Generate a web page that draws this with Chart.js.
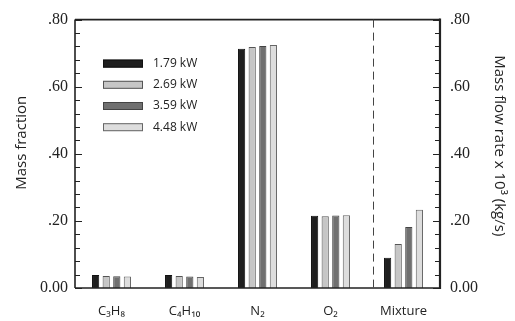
<!DOCTYPE html>
<html><head><meta charset="utf-8">
<script src="https://cdn.jsdelivr.net/npm/chart.js@4/dist/chart.umd.min.js"></script>
<style>html,body{margin:0;padding:0;background:#fff}#wrap{width:515px;height:321px}</style>
</head><body><div id="wrap"><canvas id="c" width="515" height="321"></canvas></div>
<script>
const categories = ['C\u2083H\u2088', 'C\u2084H\u2081\u2080', 'N\u2082', 'O\u2082', 'Mixture'];
const seriesLabels = ['1.79 kW', '2.69 kW', '3.59 kW', '4.48 kW'];
const s179 = [0.039, 0.039, 0.713, 0.215, 0.090];
const s269 = [0.036, 0.036, 0.718, 0.214, 0.131];
const s359 = [0.035, 0.034, 0.721, 0.216, 0.182];
const s448 = [0.034, 0.033, 0.724, 0.217, 0.233];
const yMin = 0, yMax = 0.8, majorStep = 0.2, minorStep = 0.04;
const dividerAt = 3.58;
const leftTitle = 'Mass fraction';
const rightTitle = 'Mass flow rate x 10\u00b3 (kg/s)';

const fills = ['#1f1f1f', '#c6c6c6', '#707070', '#dddddd'];
const borders = ['#111111', '#555555', '#444444', '#666666'];
const seriesData = [s179, s269, s359, s448];

const fmt = v => Math.abs(v) < 1e-9 ? '0.00' : v.toFixed(2).replace(/^0/, '');

const framePlugin = {
  id: 'frame',
  afterDraw(chart) {
    const ctx = chart.ctx, a = chart.chartArea, y = chart.scales.y, x = chart.scales.x;
    ctx.save();
    ctx.strokeStyle = '#222';
    const nMinor = Math.round((yMax - yMin) / minorStep);
    for (let i = 0; i <= nMinor; i++) {
      const v = yMin + i * minorStep;
      const py = Math.round(y.getPixelForValue(v)) + 0.5;
      const major = Math.abs(v / majorStep - Math.round(v / majorStep)) < 1e-6;
      const len = major ? 7 : 5;
      ctx.lineWidth = 1;
      ctx.beginPath();
      ctx.moveTo(a.left, py); ctx.lineTo(a.left + len, py);
      ctx.moveTo(a.right, py); ctx.lineTo(a.right - len, py);
      ctx.stroke();
    }
    ctx.lineWidth = 1.6;
    ctx.beginPath();
    ctx.moveTo(a.left, a.top); ctx.lineTo(a.right, a.top);
    ctx.moveTo(a.left, a.bottom); ctx.lineTo(a.right, a.bottom);
    ctx.moveTo(a.left, a.top); ctx.lineTo(a.left, a.bottom);
    ctx.stroke();
    ctx.lineWidth = 2.2;
    ctx.beginPath();
    ctx.moveTo(a.right, a.top - 1); ctx.lineTo(a.right, a.bottom + 1);
    ctx.stroke();
    const dx = Math.round(x.getPixelForValue(dividerAt)) + 0.5;
    ctx.lineWidth = 1;
    ctx.strokeStyle = '#444';
    ctx.setLineDash([8, 5]);
    ctx.beginPath();
    ctx.moveTo(dx, a.top); ctx.lineTo(dx, a.bottom);
    ctx.stroke();
    ctx.setLineDash([]);
    // legend
    ctx.font = '12px "Open Sans"';
    ctx.textBaseline = 'middle';
    ctx.textAlign = 'left';
    chart.data.datasets.forEach((ds, i) => {
      const cy = a.top + 44 + i * 21.2;
      const bx = a.left + 28;
      ctx.fillStyle = ds.backgroundColor;
      ctx.fillRect(bx, cy - 4, 40, 8);
      ctx.strokeStyle = ds.borderColor;
      ctx.lineWidth = 1;
      ctx.strokeRect(bx + 0.5, cy - 3.5, 39, 7);
      ctx.fillStyle = '#222';
      ctx.fillText(ds.label, bx + 50, cy);
    });
    // axis titles
    ctx.font = '15px "Open Sans"';
    ctx.fillStyle = '#222';
    ctx.textAlign = 'center';
    ctx.textBaseline = 'middle';
    const midY = (a.top + a.bottom) / 2;
    ctx.save();
    ctx.translate(22, midY - 11);
    ctx.rotate(-Math.PI / 2);
    ctx.fillText(leftTitle, 0, 0);
    ctx.restore();
    ctx.save();
    ctx.translate(chart.width - 16, midY - 8);
    ctx.rotate(Math.PI / 2);
    ctx.fillText(rightTitle, 0, 0);
    ctx.restore();
    ctx.restore();
  }
};

new Chart(document.getElementById('c'), {
  type: 'bar',
  data: {
    labels: categories,
    datasets: seriesData.map((d, i) => ({
      label: seriesLabels[i], data: d,
      backgroundColor: fills[i], borderColor: borders[i], borderWidth: 1,
      categoryPercentage: 0.58, barPercentage: 0.68, yAxisID: 'y'
    }))
  },
  options: {
    responsive: false, animation: false,
    layout: { padding: { top: 15, left: 0, right: 0, bottom: 0 } },
    plugins: { legend: { display: false }, tooltip: { enabled: false } },
    scales: {
      x: {
        offset: true,
        grid: { display: false, drawTicks: false },
        border: { display: false },
        ticks: { font: { family: 'Open Sans', size: 13 }, color: '#222', padding: 15, maxRotation: 0 },
        afterFit(s) { s.height = 33; }
      },
      y: {
        position: 'left', min: yMin, max: yMax,
        grid: { display: false, drawTicks: false },
        border: { display: false },
        ticks: { stepSize: majorStep, callback: v => fmt(v), font: { family: 'Liberation Serif', size: 16 }, color: '#222', padding: 7 },
        afterFit(s) { s.width = 75; }
      },
      y2: {
        position: 'right', min: yMin, max: yMax,
        grid: { display: false, drawTicks: false },
        border: { display: false },
        ticks: { stepSize: majorStep, callback: v => fmt(v), font: { family: 'Liberation Serif', size: 16 }, color: '#222', padding: 10 },
        afterFit(s) { s.width = 75; }
      }
    }
  },
  plugins: [framePlugin]
});
</script></body></html>
